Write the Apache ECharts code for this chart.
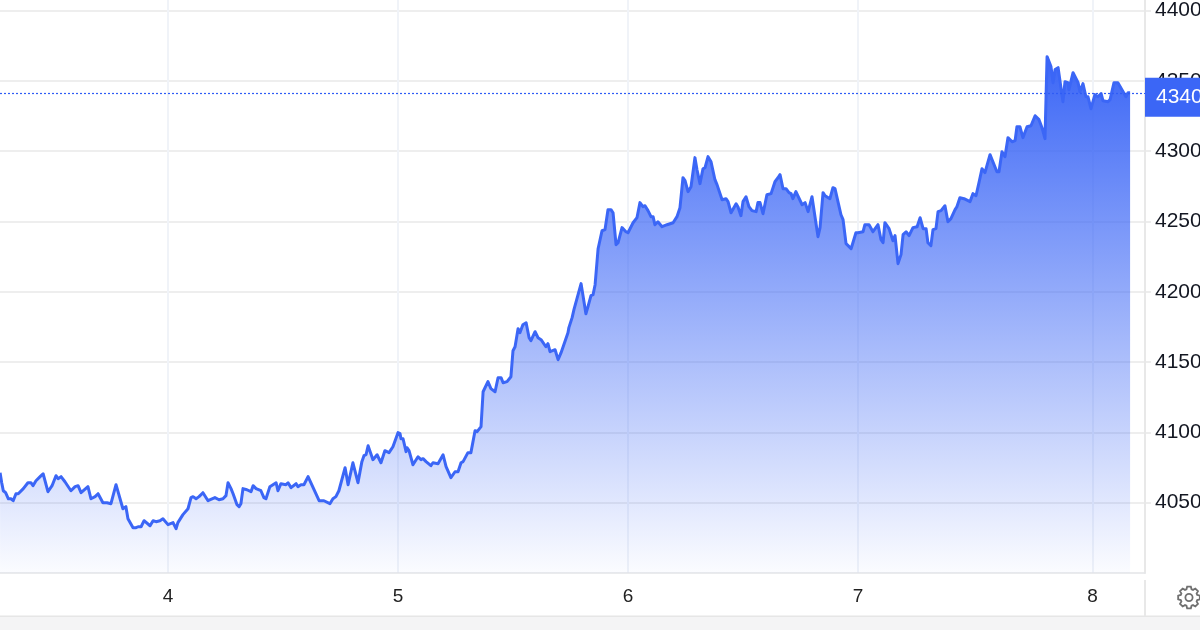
<!DOCTYPE html>
<html><head><meta charset="utf-8">
<style>html,body{margin:0;padding:0;background:#fff}#c{width:1200px;height:630px}</style>
<script src="https://cdn.jsdelivr.net/npm/echarts@6/dist/echarts.min.js"></script>
</head><body><div id="c"></div>
<script>
const days = [
3.270,3.277,3.284,3.294,3.306,3.317,3.327,3.339,3.349,3.371,3.391,3.404,3.413,3.426,3.444,3.457,3.478,3.496,3.513,3.522,3.535,3.552,3.578,3.596,3.609,3.622,3.652,3.665,3.683,3.696,3.717,3.735,3.752,3.774,3.804,3.817,3.826,3.848,3.861,3.870,3.883,3.896,3.904,3.922,3.935,3.948,3.965,3.978,4.000,4.022,4.035,4.043,4.065,4.087,4.100,4.109,4.122,4.135,
4.139,4.152,4.174,4.204,4.222,4.239,4.252,4.261,4.274,4.283,4.300,4.309,4.317,4.326,4.343,4.361,4.370,4.383,4.404,4.417,4.426,4.443,4.470,4.478,4.491,4.513,4.522,4.535,4.543,4.557,4.565,4.578,4.591,4.609,4.657,4.678,4.704,4.717,4.730,4.743,4.770,4.783,4.804,4.826,4.843,4.852,4.861,4.870,4.891,4.909,4.913,4.926,4.943,4.961,4.978,
5.000,5.009,5.013,5.022,5.035,5.039,5.048,5.065,5.087,5.100,5.109,5.122,5.130,5.143,5.152,5.174,5.196,5.209,5.217,5.230,5.248,5.261,5.274,5.283,5.304,5.317,5.335,5.344,5.352,5.361,5.370,5.378,5.391,5.404,5.422,5.435,5.448,5.457,5.474,5.491,5.500,5.509,5.522,5.530,5.543,5.557,5.570,5.578,5.596,5.609,5.622,5.630,5.643,5.652,5.661,5.683,5.696,5.709,5.717,5.739,5.743,5.757,5.765,5.796,5.817,5.826,5.839,5.848,5.857,5.870,5.887,5.900,5.913,5.926,5.935,5.948,5.957,5.974,5.991,
6.000,6.022,6.039,6.052,6.065,6.074,6.087,6.100,6.109,6.117,6.130,6.148,6.152,6.170,6.196,6.213,6.226,6.239,6.248,6.261,6.274,6.291,6.300,6.313,6.326,6.335,6.348,6.361,6.378,6.387,6.409,6.413,6.426,6.435,6.448,6.470,6.478,6.491,6.500,6.513,6.526,6.539,6.557,6.565,6.574,6.587,6.604,6.622,6.639,6.652,6.661,6.674,6.687,6.700,6.709,6.717,6.730,6.735,6.757,6.770,6.783,6.800,6.826,6.835,6.848,6.857,6.865,6.878,6.891,6.900,6.926,6.935,6.948,6.957,6.970,6.991,
7.000,7.022,7.030,7.048,7.065,7.087,7.100,7.109,7.117,7.135,7.152,7.161,7.174,7.187,7.196,7.209,7.222,7.239,7.257,7.270,7.283,7.296,7.304,7.317,7.326,7.339,7.348,7.361,7.378,7.391,7.404,7.422,7.430,7.443,7.461,7.487,7.500,7.513,7.526,7.539,7.552,7.574,7.604,7.613,7.626,7.639,7.652,7.670,7.683,7.691,7.704,7.717,7.735,7.752,7.770,7.787,7.800,7.813,7.822,7.839,7.848,7.857,7.870,7.891,7.900,7.913,7.917,7.935,7.957,7.965,7.978,7.991,
8.000,8.013,8.030,8.043,8.057,8.065,8.087,8.096,8.113,8.130,8.165,8.174,8.183];
const prices = [
4071.3,4064.2,4058.5,4057.1,4052.8,4052.8,4051.4,4056.4,4056.4,4060.0,4064.2,4064.2,4062.1,4065.6,4068.5,4070.6,4057.8,4062.1,4069.2,4067.1,4068.5,4064.9,4058.5,4061.4,4062.1,4057.1,4061.4,4052.8,4054.3,4056.4,4050.0,4050.0,4049.3,4062.8,4045.7,4047.2,4038.6,4032.2,4032.2,4032.9,4032.9,4037.2,4036.5,4033.6,4037.2,4036.5,4037.2,4038.6,4034.4,4035.8,4031.5,4035.8,4041.5,4045.7,4053.6,4054.3,4052.8,4054.3,
4053.6,4057.1,4051.4,4053.6,4052.1,4052.8,4055.0,4064.2,4060.0,4056.4,4048.6,4047.2,4049.3,4060.0,4059.2,4057.8,4062.1,4060.0,4058.5,4053.6,4052.8,4061.4,4064.2,4058.5,4063.5,4062.8,4064.2,4060.7,4060.7,4063.5,4061.4,4062.8,4062.8,4068.5,4051.4,4051.4,4049.3,4052.8,4054.3,4058.5,4074.9,4062.8,4078.4,4064.2,4079.2,4083.4,4084.1,4090.5,4080.6,4084.1,4084.8,4078.4,4087.0,4085.6,4089.8,
4099.8,4099.1,4095.5,4095.5,4086.3,4089.1,4087.0,4077.0,4082.7,4080.6,4081.3,4079.2,4079.2,4076.3,4078.4,4077.7,4084.1,4075.6,4074.2,4067.8,4072.0,4072.0,4078.4,4079.2,4085.6,4085.6,4101.2,4100.5,4101.2,4104.1,4128.9,4129.7,4136.1,4131.1,4128.9,4138.9,4138.9,4135.3,4136.1,4139.6,4158.1,4160.9,4173.7,4170.9,4176.6,4178.0,4167.3,4165.2,4171.6,4167.3,4165.9,4166.6,4160.9,4163.1,4157.4,4158.8,4151.7,4156.7,4156.0,4170.9,4174.5,4181.6,4187.3,4205.8,4184.4,4189.4,4197.2,4197.9,4205.0,4230.6,4243.4,4244.2,4258.4,4258.4,4256.2,4233.5,4234.9,4245.6,4242.7,
4242.0,4249.1,4252.7,4263.4,4260.5,4261.2,4257.7,4253.4,4253.4,4247.7,4249.8,4246.3,4245.6,4247.7,4249.1,4253.4,4259.8,4281.1,4279.0,4271.2,4274.7,4295.4,4286.8,4276.9,4287.5,4288.3,4296.1,4292.5,4279.7,4276.2,4265.5,4264.1,4266.2,4264.1,4256.2,4262.6,4260.5,4254.1,4264.1,4267.6,4260.5,4257.7,4257.0,4263.4,4263.4,4255.5,4269.0,4269.8,4278.3,4281.1,4283.3,4273.3,4273.3,4270.5,4269.8,4266.2,4271.2,4270.5,4261.9,4263.4,4257.0,4267.6,4239.2,4245.6,4270.5,4268.3,4269.0,4266.2,4274.0,4273.3,4254.8,4251.3,4234.2,4232.8,4230.6,4242.0,
4242.0,4242.7,4247.7,4247.7,4242.7,4247.7,4237.0,4234.9,4249.1,4244.9,4236.3,4239.9,4220.0,4226.4,4240.6,4242.7,4239.9,4245.6,4246.3,4252.7,4244.9,4244.9,4234.9,4232.8,4244.2,4244.9,4257.0,4257.7,4261.2,4249.8,4252.0,4258.4,4260.5,4266.9,4266.2,4264.1,4269.8,4268.3,4277.6,4287.5,4284.7,4297.5,4285.4,4285.4,4299.6,4296.1,4309.6,4306.7,4307.5,4317.4,4317.4,4309.6,4317.4,4318.1,4325.2,4322.4,4316.7,4308.9,4367.2,4360.1,4348.7,4358.0,4359.4,4335.2,4349.4,4348.7,4343.7,4355.8,4348.7,4342.3,4348.0,4338.7,
4338.7,4330.2,4340.2,4338.7,4340.9,4335.9,4335.2,4336.6,4348.7,4348.7,4338.7,4341.6,4341.6];
const xTicks = [4,5,6,7,8.02];
const yTicks = [4050,4100,4150,4200,4250,4300,4350,4400];
const lastValue = 4340.9;
const lastLabel = '4340';
const blue = '#3b66f6';
const font = '"Liberation Sans", Arial, sans-serif';
// settings icon outline (decoration, not data)
const gearPoints = [];
for (let i = 0; i < 8; i++) {
  const a = i * Math.PI / 4;
  [[-0.30,8.6],[-0.17,11],[0.17,11],[0.30,8.6]].forEach(p => {
    gearPoints.push([1189 + p[1] * Math.cos(a + p[0]), 597.5 + p[1] * Math.sin(a + p[0])]);
  });
}
const chart = echarts.init(document.getElementById('c'), null, {renderer:'canvas'});
chart.setOption({
  animation:false,
  backgroundColor:'#fff',
  grid:{left:0,right:55,top:0,bottom:57,containLabel:false,outerBoundsMode:'none'},
  xAxis:{
    type:'value',min:3.2696,max:8.2478,
    axisLine:{show:true,onZero:false,lineStyle:{color:'#e3e5e8',width:1.5}},
    axisTick:{show:false,customValues:xTicks},
    axisLabel:{customValues:xTicks,margin:14,fontFamily:font,fontSize:19,color:'#222',
      formatter:v=>String(Math.round(v))},
    splitLine:{show:true,lineStyle:{color:'#f0f3f8',width:2}}
  },
  yAxis:{
    type:'value',position:'right',min:4000,max:4407.5,
    axisLine:{show:true,onZero:false,lineStyle:{color:'#e8e8e8',width:2}},
    axisTick:{show:true,length:6,customValues:yTicks,lineStyle:{color:'#e8e8e8',width:1.5}},
    axisLabel:{customValues:yTicks,margin:10,fontFamily:font,fontSize:21,color:'#131722',formatter:v=>String(v)},
    splitLine:{show:true,lineStyle:{color:'#e8e8e8',width:1.5}}
  },
  series:[{
    type:'line',
    data:days.map((d,i)=>[d,prices[i]]),
    showSymbol:false,symbol:'none',smooth:false,
    lineStyle:{color:blue,width:3,join:'round'},
    areaStyle:{origin:'start',opacity:1,color:new echarts.graphic.LinearGradient(0,0,0,1,[
      {offset:0,color:'rgba(59,102,246,1)'},
      {offset:1,color:'rgba(59,102,246,0.02)'}])},
    markLine:{
      silent:true,symbol:'none',animation:false,
      lineStyle:{color:'#2f5cf5',type:[2,2],width:1.2,opacity:1},
      data:[{yAxis:lastValue}],
      label:{position:'end',distance:0,formatter:lastLabel,color:'#fff',fontFamily:font,fontSize:21,
        backgroundColor:blue,padding:[9,20,9,11],offset:[0,3.5]}
    }
  }],
  graphic:[
    {type:'rect',silent:true,z:10,shape:{x:0,y:616,width:1200,height:14},style:{fill:'#f4f4f5'}},
    {type:'rect',silent:true,z:10,shape:{x:0,y:615.5,width:1200,height:1.5},style:{fill:'#e6e6e6'}},
    {type:'rect',silent:true,z:10,shape:{x:1144,y:580,width:2,height:36},style:{fill:'#e8e8e8'}},
    {type:'polygon',silent:true,z:10,shape:{points:gearPoints},style:{fill:'transparent',stroke:'#707070',lineWidth:1.8}},
    {type:'circle',silent:true,z:10,shape:{cx:1189,cy:597.5,r:3.6},style:{fill:'transparent',stroke:'#707070',lineWidth:1.8}}
  ]
});
</script></body></html>
